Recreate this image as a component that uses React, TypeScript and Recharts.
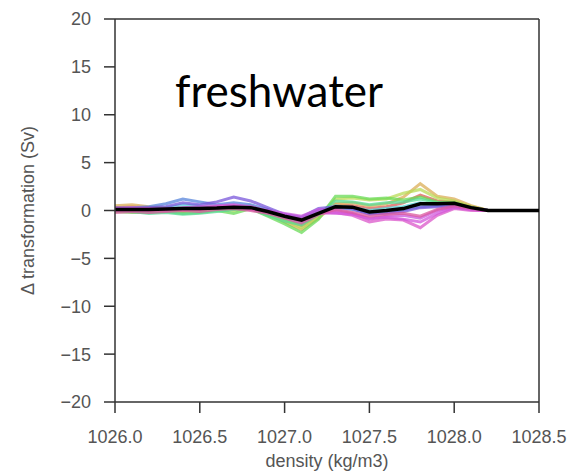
import React from 'react';
import { LineChart, Line, XAxis, YAxis, ReferenceLine, Label } from 'recharts';

const densities = [1026.0, 1026.1, 1026.2, 1026.3, 1026.4, 1026.5, 1026.6, 1026.7, 1026.8, 1026.9, 1027.0, 1027.1, 1027.2, 1027.3, 1027.4, 1027.5, 1027.6, 1027.7, 1027.8, 1027.9, 1028.0, 1028.1, 1028.2, 1028.3, 1028.4, 1028.5];

const meanValues = [0.1, 0.1, 0.1, 0.15, 0.2, 0.2, 0.25, 0.35, 0.3, -0.1, -0.6, -1.0, -0.3, 0.4, 0.35, -0.15, 0.0, 0.2, 0.7, 0.7, 0.75, 0.3, 0, 0, 0, 0];

const member0 = [0.3, 0.4, 0.3, 0.2, 0.1, 0.3, 0.4, 0.2, 0.4, -0.2, -0.9, -1.6, -0.5, 0.6, 0.5, 0.2, 0.4, 0.8, 1.6, 1.0, 0.9, 0.4, 0, 0, 0, 0];
const member1 = [0.5, 0.6, 0.4, 0.3, 0.2, 0.2, 0.3, 0.3, 0.5, -0.3, -1.2, -2.0, -0.8, 0.7, 0.8, 0.5, 0.7, 1.4, 2.8, 1.5, 1.2, 0.5, 0, 0, 0, 0];
const member2 = [0.2, 0.1, 0.0, 0.1, -0.1, 0.1, 0.2, 0.0, 0.3, -0.4, -1.0, -1.8, -0.6, 1.2, 1.3, 1.1, 1.2, 1.8, 2.2, 1.3, 1.0, 0.4, 0, 0, 0, 0];
const member3 = [-0.1, -0.2, -0.2, -0.1, -0.3, -0.2, 0.0, -0.3, 0.2, -0.6, -1.4, -2.3, -0.9, 1.5, 1.5, 1.2, 1.3, 1.1, 1.4, 0.9, 0.8, 0.3, 0, 0, 0, 0];
const member4 = [0.0, -0.1, -0.3, -0.2, -0.4, -0.3, -0.1, 0.1, 0.2, -0.5, -1.1, -1.5, -0.4, 1.0, 0.9, 0.6, 0.8, 0.9, 1.2, 0.8, 0.7, 0.2, 0, 0, 0, 0];
const member5 = [0.1, 0.2, 0.1, 0.3, 0.6, 0.5, 0.2, 0.4, 0.3, -0.2, -0.7, -1.2, -0.2, 0.5, 0.3, 0.0, 0.2, 0.4, 0.8, 0.6, 0.6, 0.2, 0, 0, 0, 0];
const member6 = [0.2, 0.3, 0.4, 0.7, 1.2, 0.9, 0.6, 0.8, 0.6, 0.1, -0.5, -0.8, 0.0, 0.3, 0.1, -0.3, -0.2, 0.1, 0.4, 0.5, 0.6, 0.3, 0, 0, 0, 0];
const member7 = [0.3, 0.2, 0.3, 0.4, 0.8, 0.6, 0.9, 1.4, 1.0, 0.3, -0.4, -0.7, 0.2, 0.4, 0.2, -0.4, -0.3, -0.1, 0.3, 0.4, 0.5, 0.2, 0, 0, 0, 0];
const member8 = [0.2, 0.3, 0.2, 0.1, 0.3, 0.4, 0.5, 0.6, 0.4, 0.0, -0.3, -0.6, 0.1, 0.0, -0.3, -0.9, -0.6, -0.5, -0.8, 0.0, 0.4, 0.1, 0, 0, 0, 0];
const member9 = [0.1, 0.0, 0.1, 0.0, 0.2, 0.1, 0.4, 0.5, 0.2, -0.2, -0.6, -0.9, -0.3, -0.2, -0.5, -1.2, -0.9, -1.0, -1.8, -0.5, 0.2, 0.0, 0, 0, 0, 0];
const member10 = [0.0, 0.1, 0.0, 0.2, 0.1, 0.2, 0.3, 0.4, 0.1, -0.1, -0.5, -1.1, -0.2, -0.3, -0.4, -0.8, -0.7, -0.9, -1.2, -0.3, 0.3, 0.1, 0, 0, 0, 0];
const member11 = [-0.2, -0.1, -0.2, -0.1, 0.0, -0.1, 0.1, 0.2, 0.0, -0.3, -0.8, -1.3, -0.4, 0.1, -0.2, -0.6, -0.4, -0.3, -0.6, 0.1, 0.5, 0.2, 0, 0, 0, 0];

const members = [member0, member1, member2, member3, member4, member5, member6, member7, member8, member9, member10, member11];
const memberColors = ['#db5f57', '#dbae57', '#b9db57', '#69db57', '#57db94', '#57d3db', '#5784db', '#7957db', '#c957db', '#db57c9', '#d357db', '#db579e'];

const xTicks = [1026.0, 1026.5, 1027.0, 1027.5, 1028.0, 1028.5];
const yTicks = [-20, -15, -10, -5, 0, 5, 10, 15, 20];

const data = densities.map((d, i) => {
  const row: Record<string, number> = { density: d, mean: meanValues[i] };
  members.forEach((m, k) => {
    row['m' + k] = m[i];
  });
  return row;
});

const axisColor = '#333333';
const tickFont = { fontFamily: 'Liberation Sans, Arial, sans-serif', fontSize: 18, fill: '#555555' };

export default function App() {
  return (
    <div style={{ position: 'absolute', left: 0, top: 0, width: 571, height: 475, background: '#fff' }}>
      <LineChart width={571} height={475} data={data} margin={{ top: 19, right: 32, bottom: 0, left: 0 }}>
        <XAxis
          dataKey="density"
          type="number"
          domain={[1026, 1028.5]}
          ticks={xTicks}
          tickFormatter={(v: number) => v.toFixed(1)}
          height={73}
          stroke={axisColor}
          strokeWidth={1.5}
          tickSize={11}
          tickMargin={17}
          tick={tickFont}
          tickLine={{ stroke: axisColor, strokeWidth: 1.5 }}
          allowDataOverflow
        >
          <Label
            value="density (kg/m3)"
            position="insideBottom"
            offset={8}
            style={{ fontFamily: 'Liberation Sans, Arial, sans-serif', fontSize: 18, fill: '#555555' }}
          />
        </XAxis>
        <YAxis
          type="number"
          domain={[-20, 20]}
          ticks={yTicks}
          tickFormatter={(v: number) => String(v).replace('-', '\u2212')}
          width={115}
          stroke={axisColor}
          strokeWidth={1.5}
          tickSize={11}
          tickMargin={13}
          tick={tickFont}
          tickLine={{ stroke: axisColor, strokeWidth: 1.5 }}
          allowDataOverflow
        >
          <Label
            value="Δ transformation (Sv)"
            angle={-90}
            position="insideLeft"
            offset={28}
            style={{ textAnchor: 'middle', fontFamily: 'Liberation Sans, Arial, sans-serif', fontSize: 18, fill: '#555555' }}
          />
        </YAxis>
        <ReferenceLine y={20} stroke={axisColor} strokeWidth={1.5} />
        <ReferenceLine x={1028.5} stroke={axisColor} strokeWidth={1.5} />
        {members.map((_, k) => (
          <Line
            key={'m' + k}
            dataKey={'m' + k}
            type="linear"
            dot={false}
            stroke={memberColors[k]}
            strokeOpacity={0.75}
            strokeWidth={3}
            isAnimationActive={false}
          />
        ))}
        <Line dataKey="mean" type="linear" dot={false} stroke="#000000" strokeWidth={3.5} isAnimationActive={false} />
      </LineChart>
      <div
        style={{
          position: 'absolute',
          left: 175,
          top: 68,
          fontFamily: 'Lato, "Open Sans", sans-serif',
          fontSize: 44,
          lineHeight: '44px',
          color: '#000',
          whiteSpace: 'nowrap',
        }}
      >
        freshwater
      </div>
    </div>
  );
}
